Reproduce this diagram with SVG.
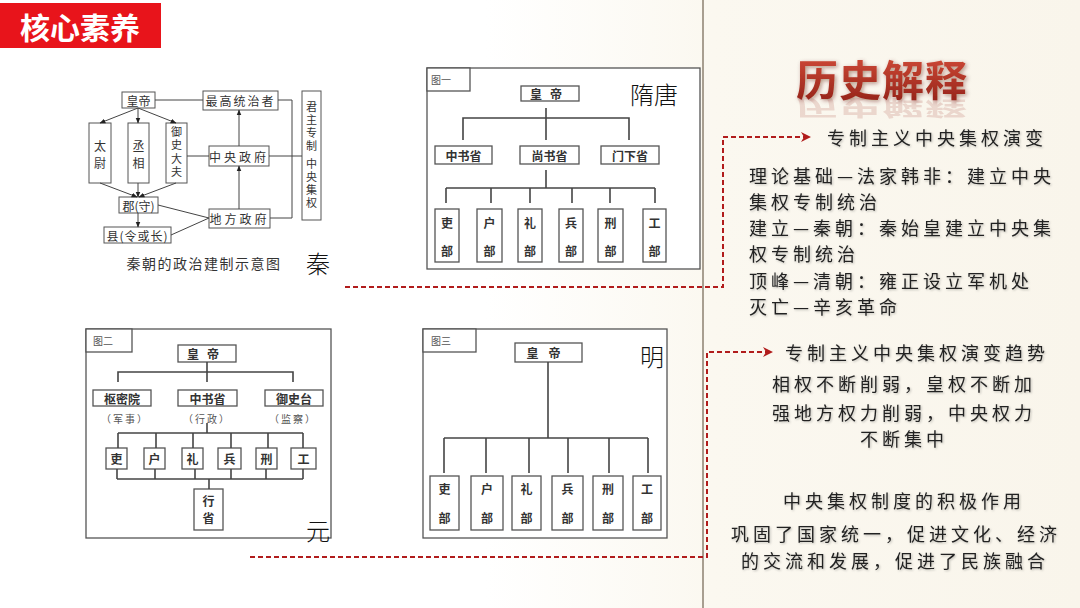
<svg xmlns="http://www.w3.org/2000/svg" width="1080" height="608" viewBox="0 0 1080 608">
<defs>
  <linearGradient id="bg" x1="0" y1="0" x2="1" y2="0">
    <stop offset="0" stop-color="#ffffff"/>
    <stop offset="0.45" stop-color="#ffffff"/>
    <stop offset="0.66" stop-color="#fbf8f0"/>
    <stop offset="1" stop-color="#f9f5eb"/>
  </linearGradient>
  <linearGradient id="red" x1="0" y1="0" x2="0" y2="1">
    <stop offset="0" stop-color="#d9503c"/>
    <stop offset="1" stop-color="#8e1f16"/>
  </linearGradient>
  <marker id="ah" viewBox="0 0 10 10" refX="9" refY="5" markerWidth="6" markerHeight="6" orient="auto">
    <path d="M0,1 L10,5 L0,9 z" fill="#222"/>
  </marker>
  <marker id="rah" viewBox="0 0 10 10" refX="9" refY="5" markerWidth="5" markerHeight="5" orient="auto">
    <path d="M0,0 L10,5 L0,10 L3,5 z" fill="#b11c1c"/>
  </marker>
  <filter id="sh" x="-10%" y="-30%" width="120%" height="160%">
    <feDropShadow dx="1" dy="1" stdDeviation="0.8" flood-color="#000" flood-opacity="0.25"/>
  </filter>
  <filter id="glow" x="-10%" y="-30%" width="120%" height="160%">
    <feDropShadow dx="1.5" dy="1.5" stdDeviation="2" flood-color="#5a1a10" flood-opacity="0.45"/>
  </filter>
</defs>
<style>
  text { font-family: "Noto Sans CJK SC", "Noto Sans CJK TC", sans-serif; fill: #222; }
  .qb { fill: #fff; stroke: #555; stroke-width: 1; }
  .qt { font-size: 12px; text-anchor: middle; dominant-baseline: central; fill: #333; }
  .qv { font-size: 11px; text-anchor: middle; writing-mode: vertical-rl; fill: #333; }
  .ql { stroke: #444; stroke-width: 1; fill: none; }
  .qa { stroke: #444; stroke-width: 1; fill: none; marker-end: url(#ah); }
  .fb { fill: #fff; stroke: #555; stroke-width: 1.3; }
  .fl { stroke: #444; stroke-width: 1.6; fill: none; }
  .ft { font-size: 12px; font-weight: bold; text-anchor: middle; dominant-baseline: central; fill: #333; }
  .fs { font-size: 10px; text-anchor: middle; dominant-baseline: central; fill: #555; }
  .dyn { font-size: 24px; font-weight: 300; text-anchor: middle; dominant-baseline: central; fill: #111; }
  .rt { font-size: 18px; letter-spacing: 4px; dominant-baseline: central; fill: #222; }
  .rc { font-size: 18px; letter-spacing: 4px; dominant-baseline: central; text-anchor: middle; fill: #222; }
  .dash { stroke: #b11c1c; stroke-width: 2; stroke-dasharray: 5 3; fill: none; }
</style>

<rect x="0" y="0" width="1080" height="608" fill="url(#bg)"/>
<line x1="703" y1="0" x2="703" y2="608" stroke="#8c8070" stroke-width="1.5"/>

<g id="title">
  <rect x="0" y="3" width="161" height="45" fill="#e8141b"/>
  <text x="80" y="26" font-size="30" font-weight="bold" text-anchor="middle" dominant-baseline="central" style="fill:#fff">核心素养</text>
</g>

<!-- Qin diagram -->
<g id="qin">
  <g id="q-emperor"><rect class="qb" x="122" y="92" width="33" height="16"/><text class="qt" x="138.5" y="100">皇帝</text></g>
  <g id="q-ruler"><rect class="qb" x="203" y="91" width="75" height="19"/><text class="qt" x="240.5" y="100.5" letter-spacing="2">最高统治者</text></g>
  <g id="q-autocracy"><rect class="qb" x="302" y="91" width="19" height="129"/>
    <text class="qv" x="311.5" y="156" letter-spacing="2">君主专制 中央集权</text>
  </g>
  <g id="q-taiwei"><rect class="qb" x="89" y="123" width="22" height="60"/><text class="qt"><tspan x="100" y="145">太</tspan><tspan x="100" y="162">尉</tspan></text></g>
  <g id="q-chengxiang"><rect class="qb" x="128" y="123" width="21" height="60"/><text class="qt"><tspan x="138.5" y="145">丞</tspan><tspan x="138.5" y="162">相</tspan></text></g>
  <g id="q-yushi"><rect class="qb" x="166" y="123" width="21" height="60"/><text class="qv" x="176.5" y="153" letter-spacing="2.5">御史大夫</text></g>
  <g id="q-central"><rect class="qb" x="209" y="146" width="60" height="20"/><text class="qt" x="239" y="156" letter-spacing="3">中央政府</text></g>
  <g id="q-jun"><rect class="qb" x="119" y="197" width="39" height="16"/><text class="qt" x="138.5" y="205">郡(守)</text></g>
  <g id="q-local"><rect class="qb" x="209" y="209" width="61" height="19"/><text class="qt" x="239.5" y="218.5" letter-spacing="3">地方政府</text></g>
  <g id="q-xian"><rect class="qb" x="104" y="227" width="67" height="16"/><text class="qt" x="137.5" y="235" letter-spacing="1">县(令或长)</text></g>
  <text x="204" y="263" font-size="14" text-anchor="middle" dominant-baseline="central" letter-spacing="1.5" style="fill:#333">秦朝的政治建制示意图</text>
  <text class="dyn" x="318" y="262">秦</text>
</g>

<g id="qin-connectors">
  <line class="ql" x1="155" y1="100" x2="203" y2="100"/>
  <line class="qa" x1="138" y1="108" x2="100" y2="123"/>
  <line class="qa" x1="138" y1="108" x2="138" y2="123"/>
  <line class="qa" x1="138" y1="108" x2="176" y2="123"/>
  <line class="qa" x1="100" y1="183" x2="137" y2="197"/>
  <line class="qa" x1="138" y1="183" x2="138" y2="197"/>
  <line class="qa" x1="176" y1="183" x2="139" y2="197"/>
  <line class="qa" x1="138" y1="213" x2="138" y2="227"/>
  <line class="ql" x1="187" y1="156" x2="209" y2="156"/>
  <line class="qa" x1="239" y1="146" x2="239" y2="110"/>
  <line class="qa" x1="239" y1="209" x2="239" y2="166"/>
  <line class="ql" x1="158" y1="205" x2="209" y2="218"/>
  <line class="ql" x1="171" y1="235" x2="209" y2="218"/>
  <polyline class="ql" points="278,100 292,100 292,218 270,218"/>
  <line class="ql" x1="269" y1="156" x2="302" y2="156"/>
</g>

<!-- Figure 1 Sui-Tang -->
<g id="fig1">
  <rect class="fb" x="427" y="68" width="273" height="201"/>
  <g id="f1-label"><rect class="fb" x="427" y="68" width="43" height="23"/><text class="fs" x="441" y="79.5">图一</text></g>
  <g id="f1-emperor"><rect class="fb" x="521" y="86" width="58" height="15"/><text class="ft" x="550" y="93.5" font-size="11" letter-spacing="8">皇帝</text></g>
  <g id="f1-zhongshu"><rect class="fb" x="435" y="146" width="57" height="18"/><text class="ft" x="463.5" y="155">中书省</text></g>
  <g id="f1-shangshu"><rect class="fb" x="520" y="146" width="59" height="18"/><text class="ft" x="549.5" y="155">尚书省</text></g>
  <g id="f1-menxia"><rect class="fb" x="601" y="146" width="58" height="18"/><text class="ft" x="630" y="155">门下省</text></g>
  <g id="f1-li"><rect class="fb" x="435" y="209" width="24" height="53"/><text class="ft"><tspan x="447" y="222">吏</tspan><tspan x="447" y="250">部</tspan></text></g>
  <g id="f1-hu"><rect class="fb" x="477" y="209" width="25" height="53"/><text class="ft"><tspan x="489.5" y="222">户</tspan><tspan x="489.5" y="250">部</tspan></text></g>
  <g id="f1-li2"><rect class="fb" x="518" y="209" width="24" height="53"/><text class="ft"><tspan x="530" y="222">礼</tspan><tspan x="530" y="250">部</tspan></text></g>
  <g id="f1-bing"><rect class="fb" x="559" y="209" width="24" height="53"/><text class="ft"><tspan x="571" y="222">兵</tspan><tspan x="571" y="250">部</tspan></text></g>
  <g id="f1-xing"><rect class="fb" x="598" y="209" width="25" height="53"/><text class="ft"><tspan x="610.5" y="222">刑</tspan><tspan x="610.5" y="250">部</tspan></text></g>
  <g id="f1-gong"><rect class="fb" x="643" y="209" width="23" height="53"/><text class="ft"><tspan x="654.5" y="222">工</tspan><tspan x="654.5" y="250">部</tspan></text></g>
  <text class="dyn" x="654" y="93">隋唐</text>
</g>
<g id="fig1-connectors">
  <line class="fl" x1="546" y1="108" x2="546" y2="140"/>
  <polyline class="fl" points="463,140 463,118 629,118 629,140"/>
  <line class="fl" x1="546" y1="170" x2="546" y2="188"/>
  <line class="fl" x1="446" y1="188" x2="655" y2="188"/>
  <line class="fl" x1="446" y1="188" x2="446" y2="203"/>
  <line class="fl" x1="491" y1="188" x2="491" y2="203"/>
  <line class="fl" x1="530" y1="188" x2="530" y2="203"/>
  <line class="fl" x1="572" y1="188" x2="572" y2="203"/>
  <line class="fl" x1="610" y1="188" x2="610" y2="203"/>
  <line class="fl" x1="655" y1="188" x2="655" y2="203"/>
</g>

<!-- Figure 2 Yuan -->
<g id="fig2">
  <rect class="fb" x="86" y="329" width="245" height="209"/>
  <g id="f2-label"><rect class="fb" x="86" y="329" width="46" height="23"/><text class="fs" x="103" y="340.5">图二</text></g>
  <g id="f2-emperor"><rect class="fb" x="178" y="345" width="58" height="17"/><text class="ft" x="207" y="353.5" letter-spacing="8">皇帝</text></g>
  <g id="f2-shumi"><rect class="fb" x="93" y="390" width="58" height="16"/><text class="ft" x="122" y="398">枢密院</text><text class="fs" x="125" y="418" letter-spacing="2">（军事）</text></g>
  <g id="f2-zhongshu"><rect class="fb" x="178" y="390" width="59" height="16"/><text class="ft" x="207.5" y="398">中书省</text><text class="fs" x="207" y="418" letter-spacing="2">（行政）</text></g>
  <g id="f2-yushi"><rect class="fb" x="265" y="390" width="58" height="16"/><text class="ft" x="294" y="398">御史台</text><text class="fs" x="293" y="418" letter-spacing="2">（监察）</text></g>
  <g id="f2-li"><rect class="fb" x="106" y="448" width="21" height="21"/><text class="ft" x="116.5" y="458.5">吏</text></g>
  <g id="f2-hu"><rect class="fb" x="144" y="448" width="21" height="21"/><text class="ft" x="154.5" y="458.5">户</text></g>
  <g id="f2-li2"><rect class="fb" x="182" y="448" width="21" height="21"/><text class="ft" x="192.5" y="458.5">礼</text></g>
  <g id="f2-bing"><rect class="fb" x="218" y="448" width="23" height="21"/><text class="ft" x="229.5" y="458.5">兵</text></g>
  <g id="f2-xing"><rect class="fb" x="256" y="448" width="21" height="21"/><text class="ft" x="266.5" y="458.5">刑</text></g>
  <g id="f2-gong"><rect class="fb" x="291" y="448" width="25" height="21"/><text class="ft" x="303.5" y="458.5">工</text></g>
  <g id="f2-xingsheng"><rect class="fb" x="194" y="489" width="29" height="41"/><text class="ft"><tspan x="208.5" y="500">行</tspan><tspan x="208.5" y="517">省</tspan></text></g>
  <text class="dyn" x="318" y="529">元</text>
</g>
<g id="fig2-connectors">
  <line class="fl" x1="207" y1="362" x2="207" y2="382"/>
  <polyline class="fl" points="118,382 118,372 293,372 293,382"/>
  <line class="fl" x1="207" y1="423" x2="207" y2="433"/>
  <line class="fl" x1="118" y1="433" x2="303" y2="433"/>
  <line class="fl" x1="118" y1="433" x2="118" y2="448"/>
  <line class="fl" x1="156" y1="433" x2="156" y2="448"/>
  <line class="fl" x1="193" y1="433" x2="193" y2="448"/>
  <line class="fl" x1="231" y1="433" x2="231" y2="448"/>
  <line class="fl" x1="268" y1="433" x2="268" y2="448"/>
  <line class="fl" x1="303" y1="433" x2="303" y2="448"/>
  <line class="fl" x1="117" y1="479" x2="303" y2="479"/>
  <line class="fl" x1="117" y1="469" x2="117" y2="479"/>
  <line class="fl" x1="155" y1="469" x2="155" y2="479"/>
  <line class="fl" x1="195" y1="469" x2="195" y2="479"/>
  <line class="fl" x1="231" y1="469" x2="231" y2="479"/>
  <line class="fl" x1="266" y1="469" x2="266" y2="479"/>
  <line class="fl" x1="303" y1="469" x2="303" y2="479"/>
  <line class="fl" x1="209" y1="479" x2="209" y2="489"/>
</g>

<!-- Figure 3 Ming -->
<g id="fig3">
  <rect class="fb" x="423" y="329" width="244" height="209"/>
  <g id="f3-label"><rect class="fb" x="423" y="329" width="53" height="23"/><text class="fs" x="441" y="340.5">图三</text></g>
  <g id="f3-emperor"><rect class="fb" x="515" y="343" width="67" height="19"/><text class="ft" x="548.5" y="352.5" letter-spacing="10">皇帝</text></g>
  <g id="f3-li"><rect class="fb" x="430" y="476" width="29" height="54"/><text class="ft"><tspan x="444.5" y="488">吏</tspan><tspan x="444.5" y="517">部</tspan></text></g>
  <g id="f3-hu"><rect class="fb" x="471" y="476" width="32" height="54"/><text class="ft"><tspan x="487" y="488">户</tspan><tspan x="487" y="517">部</tspan></text></g>
  <g id="f3-li2"><rect class="fb" x="512" y="476" width="29" height="54"/><text class="ft"><tspan x="526.5" y="488">礼</tspan><tspan x="526.5" y="517">部</tspan></text></g>
  <g id="f3-bing"><rect class="fb" x="552" y="476" width="31" height="54"/><text class="ft"><tspan x="567.5" y="488">兵</tspan><tspan x="567.5" y="517">部</tspan></text></g>
  <g id="f3-xing"><rect class="fb" x="593" y="476" width="30" height="54"/><text class="ft"><tspan x="608" y="488">刑</tspan><tspan x="608" y="517">部</tspan></text></g>
  <g id="f3-gong"><rect class="fb" x="633" y="476" width="28" height="54"/><text class="ft"><tspan x="647" y="488">工</tspan><tspan x="647" y="517">部</tspan></text></g>
  <text class="dyn" x="652" y="355">明</text>
</g>
<g id="fig3-connectors">
  <line class="fl" x1="548" y1="362" x2="548" y2="438"/>
  <line class="fl" x1="444" y1="438" x2="648" y2="438"/>
  <line class="fl" x1="444" y1="438" x2="444" y2="473"/>
  <line class="fl" x1="486" y1="438" x2="486" y2="473"/>
  <line class="fl" x1="529" y1="438" x2="529" y2="473"/>
  <line class="fl" x1="568" y1="438" x2="568" y2="473"/>
  <line class="fl" x1="609" y1="438" x2="609" y2="473"/>
  <line class="fl" x1="648" y1="438" x2="648" y2="473"/>
</g>

<!-- Right panel -->
<g id="heading">
  <g opacity="0.22"><text x="882" y="96" font-size="42" font-weight="bold" text-anchor="middle" letter-spacing="1" transform="matrix(1,0,0,-0.55,0,152)" style="fill:#b86a5e">历史解释</text></g>
  <text x="882" y="96" font-size="42" font-weight="bold" text-anchor="middle" letter-spacing="1" filter="url(#glow)" style="fill:url(#red)">历史解释</text>
</g>

<g id="connectors">
  <polyline class="dash" points="345,287 723,287 723,137 810,137" marker-end="url(#rah)"/>
  <polyline class="dash" points="250,557 707,557 707,352 772,352" marker-end="url(#rah)"/>
</g>

<g id="evolution" filter="url(#sh)">
  <text class="rt" x="827" y="137">专制主义中央集权演变</text>
  <text class="rt" x="749" y="175">理论基础—法家韩非：建立中央</text>
  <text class="rt" x="749" y="201">集权专制统治</text>
  <text class="rt" x="749" y="227">建立—秦朝：秦始皇建立中央集</text>
  <text class="rt" x="749" y="253">权专制统治</text>
  <text class="rt" x="749" y="280">顶峰—清朝：雍正设立军机处</text>
  <text class="rt" x="749" y="306">灭亡—辛亥革命</text>
</g>

<g id="trend" filter="url(#sh)">
  <text class="rt" x="785" y="352">专制主义中央集权演变趋势</text>
  <text class="rc" x="904" y="383">相权不断削弱，皇权不断加</text>
  <text class="rc" x="904" y="412">强地方权力削弱，中央权力</text>
  <text class="rc" x="904" y="438">不断集中</text>
  <text class="rc" x="904" y="500">中央集权制度的积极作用</text>
  <text class="rc" x="896" y="533">巩固了国家统一，促进文化、经济</text>
  <text class="rc" x="895" y="560">的交流和发展，促进了民族融合</text>
</g>
</svg>
